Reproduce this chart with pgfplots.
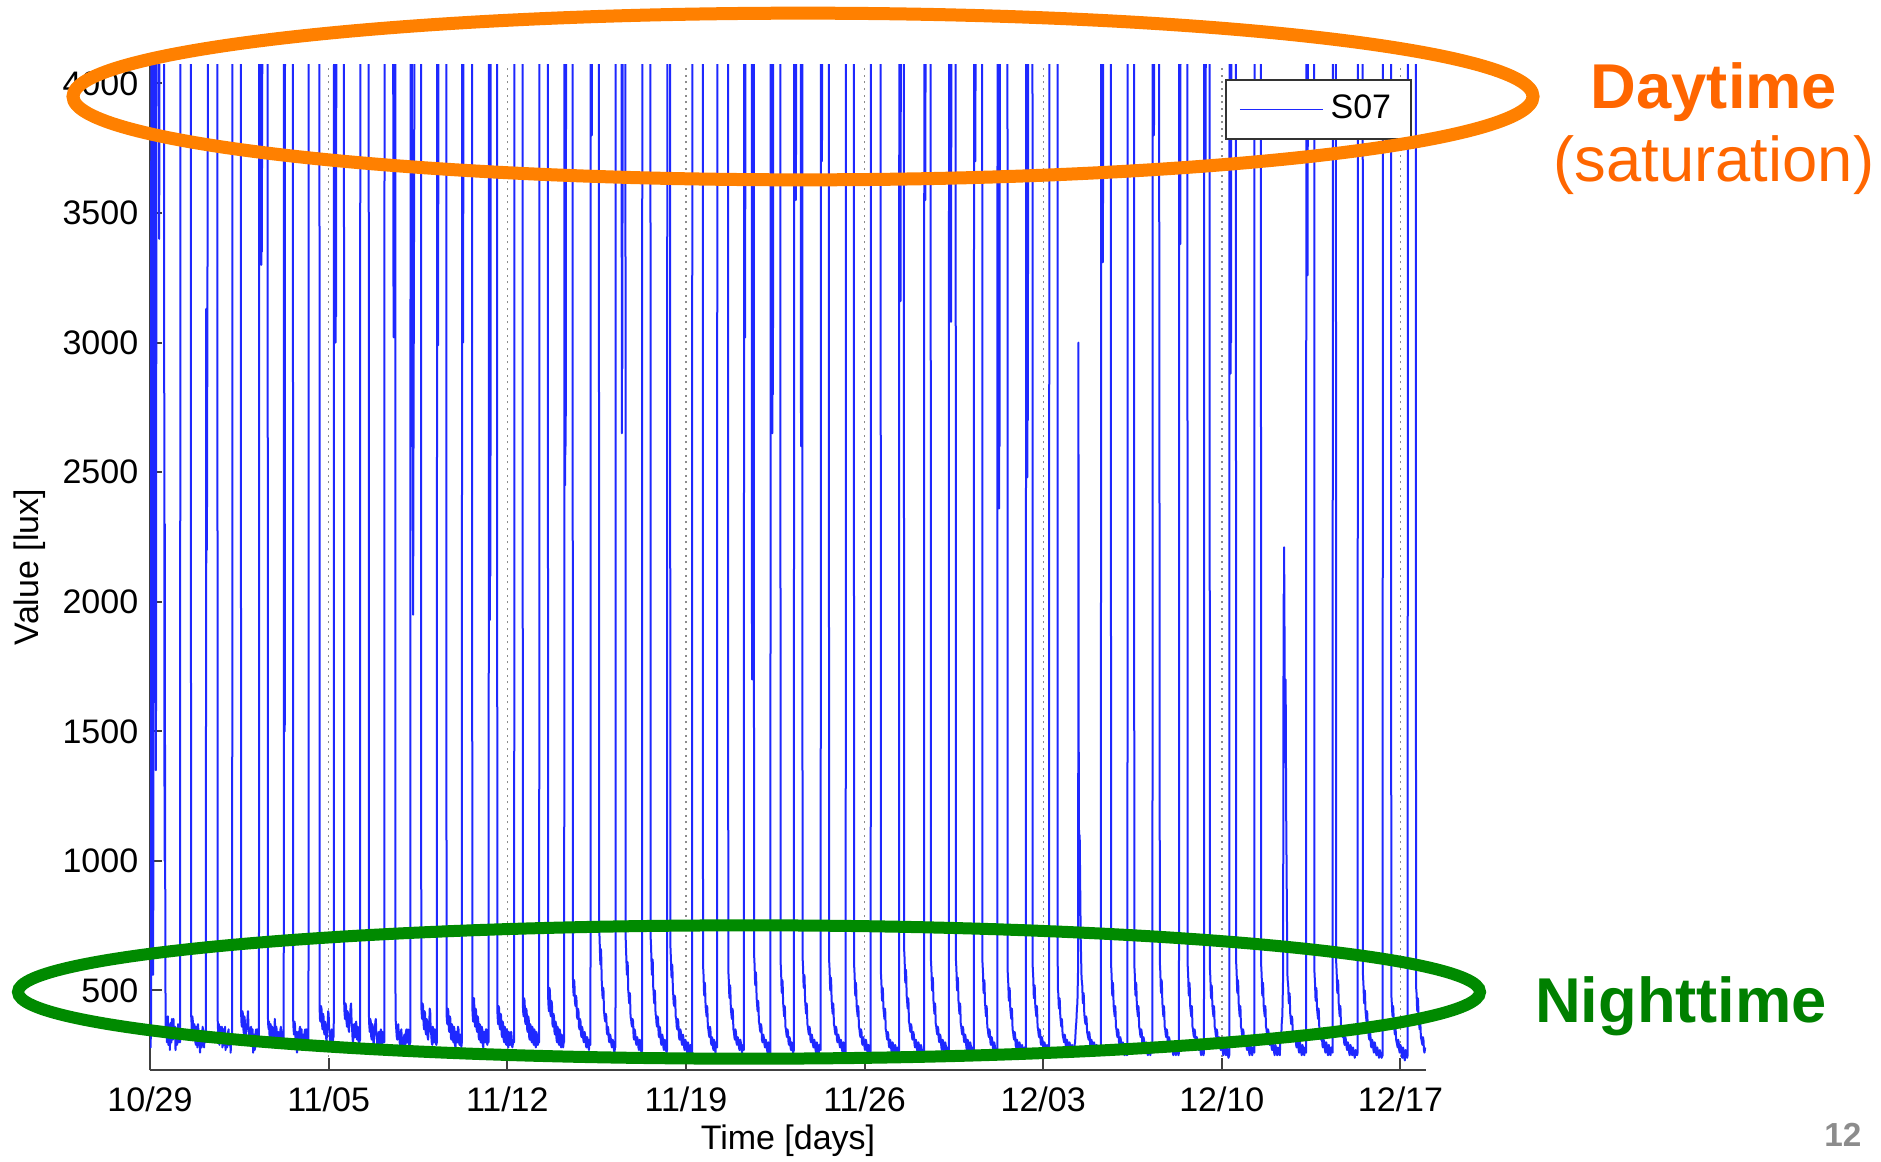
\documentclass[border=0pt]{standalone}
\usepackage{pgfplots}
\pgfplotsset{compat=1.18}
\usepackage{fontspec}
\setmainfont{Liberation Sans}
\definecolor{sblue}{RGB}{30,40,255}
\definecolor{ellorange}{RGB}{255,128,0}
\definecolor{txtorange}{RGB}{255,102,0}
\definecolor{ellgreen}{RGB}{0,138,0}
\definecolor{txtgreen}{RGB}{0,128,0}
\begin{document}
\begin{tikzpicture}
\path[use as bounding box] (0pt,0pt) rectangle (564.3pt,-348.3pt);
\begin{axis}[
  scale only axis, width=382.8pt, height=301.8pt,
  at={(45pt,-321pt)}, anchor=south west,
  xmin=0, xmax=50, ymin=193, ymax=4075,
  axis x line*=bottom, axis y line*=left,
  axis line style={-, black!75, line width=0.6pt},
  tick style={black!75, line width=0.6pt},
  major tick length=3.5pt, tick align=inside,
  xtick={0,7,...,49},
  xticklabels={10/29,11/05,11/12,11/19,11/26,12/03,12/10,12/17},
  ytick={500,1000,...,4000},
  scaled y ticks=false,
  /pgf/number format/assume math mode=true,
  /pgf/number format/1000 sep={},
  tick label style={font=\fontsize{10.2}{12}\selectfont},
  xticklabel style={yshift=-1.5pt},
  xmajorgrids=true, ymajorgrids=false,
  major grid style={black!45, line width=0.4pt, dash pattern=on 0.6pt off 1.4pt},
  xlabel={Time [days]}, ylabel={Value [lux]},
  label style={font=\fontsize{10.2}{12}\selectfont},
  xlabel style={at={(axis description cs:0.5,-0.0700)}, anchor=center},
  ylabel style={at={(axis description cs:-0.094,0.5)}, anchor=center},
  legend style={at={(0.989,0.985)}, anchor=north east, draw=black!80, fill=white,
    line width=0.5pt, font=\fontsize{10.2}{12}\selectfont, inner xsep=4pt, inner ysep=2.5pt},
  legend image code/.code={\draw[#1, line width=0.4pt] (0pt,0pt) -- (25pt,0pt);},
  clip=true,
]
\addplot[sblue, line width=0.6pt, no marks, line join=round] coordinates {
(0.00,330)(0.02,280)(0.04,350)(0.05,4095)(0.11,4095)(0.12,560)(0.13,900)(0.14,4095)(0.21,4095)(0.22,1900)(0.23,1350)(0.24,1800)(0.25,4095)(0.35,4095)(0.36,3400)(0.37,4095)(0.55,4095)(0.56,2550)(0.57,1000)(0.58,2300)(0.59,1200)(0.61,380)
(0.62,330)(0.64,390)(0.66,300)(0.68,360)(0.70,400)(0.72,290)(0.74,350)(0.76,340)(0.78,270)(0.80,375)(0.82,330)(0.84,300)(0.86,390)(0.88,350)(0.90,310)(0.92,390)(0.94,340)(0.96,320)(0.98,360)(1.00,270)(1.02,330)(1.04,350)(1.06,290)(1.08,300)(1.10,370)(1.12,360)(1.14,300)(1.16,330)
(1.18,300)(1.19,4095)(1.60,4095)(1.61,410)
(1.63,370)(1.64,340)(1.66,400)(1.68,380)(1.70,330)(1.72,310)(1.74,370)(1.76,350)(1.78,300)(1.80,290)(1.82,360)(1.84,330)(1.86,280)(1.88,370)(1.90,340)(1.92,300)(1.94,330)(1.96,260)(1.98,320)(2.00,340)(2.02,280)(2.04,300)(2.06,360)(2.08,350)(2.10,300)(2.12,280)(2.14,340)(2.16,320)(2.19,300)
(2.20,3130)(2.21,2150)(2.22,2600)(2.23,2200)(2.27,4095)(2.64,4095)(2.65,400)
(2.66,360)(2.68,330)(2.70,370)(2.72,290)(2.74,340)(2.76,360)(2.78,300)(2.80,320)(2.82,360)(2.84,280)(2.86,330)(2.88,350)(2.90,290)(2.92,310)(2.94,360)(2.96,270)(2.98,320)(3.00,330)(3.02,280)(3.04,290)(3.06,340)(3.08,350)(3.10,290)(3.12,300)(3.14,330)(3.16,260)(3.18,300)(3.20,320)
(3.22,300)(3.23,4095)(3.56,4095)(3.57,420)
(3.58,380)(3.60,360)(3.62,420)(3.64,410)(3.66,350)(3.68,330)(3.70,400)(3.72,380)(3.74,320)(3.76,300)(3.78,370)(3.80,350)(3.82,390)(3.84,420)(3.86,360)(3.88,340)(3.90,300)(3.92,290)(3.94,340)(3.96,360)(3.98,300)(4.00,310)(4.02,350)(4.04,260)(4.06,310)(4.08,330)(4.10,270)(4.12,280)(4.14,340)(4.16,350)(4.18,290)(4.20,300)(4.22,350)(4.25,330)
(4.27,310)(4.28,4095)(4.35,4095)(4.36,3300)(4.37,3700)(4.38,3350)(4.40,4095)(4.61,4095)(4.62,400)
(4.63,370)(4.65,350)(4.67,380)(4.69,300)(4.71,340)(4.73,370)(4.75,310)(4.77,320)(4.79,360)(4.81,280)(4.83,330)(4.85,350)(4.87,300)(4.89,390)(4.91,350)(4.93,310)(4.95,360)(4.97,340)(4.99,290)(5.01,280)(5.03,340)(5.05,330)(5.07,280)(5.09,300)(5.11,350)(5.13,360)(5.15,300)(5.17,310)(5.19,340)(5.21,280)
(5.24,300)(5.25,4095)(5.27,4095)(5.28,1500)(5.29,4095)(5.60,4095)(5.61,390)
(5.62,360)(5.64,330)(5.66,380)(5.68,370)(5.70,320)(5.72,300)(5.74,340)(5.76,260)(5.78,310)(5.80,340)(5.82,290)(5.84,300)(5.86,350)(5.88,360)(5.90,300)(5.92,320)(5.94,350)(5.96,270)(5.98,310)(6.00,330)(6.02,280)(6.04,290)(6.06,340)(6.08,350)(6.10,290)(6.12,300)(6.14,350)(6.16,330)(6.19,290)
(6.21,300)(6.22,4095)(6.64,4095)(6.65,420)
(6.66,390)(6.68,380)(6.70,440)(6.72,430)(6.74,370)(6.76,350)(6.78,410)(6.80,400)(6.82,340)(6.84,330)(6.86,380)(6.88,370)(6.90,320)(6.92,300)(6.94,360)(6.96,350)(6.98,420)(7.00,410)(7.02,350)(7.04,330)(7.06,300)(7.08,290)(7.10,340)(7.12,350)(7.14,300)(7.16,300)(7.19,330)
(7.20,320)(7.21,4095)(7.26,4095)(7.27,3000)(7.28,3800)(7.29,3100)(7.30,4095)(7.60,4095)(7.61,450)
(7.62,420)(7.64,390)(7.66,450)(7.68,440)(7.70,380)(7.72,360)(7.74,420)(7.76,410)(7.78,350)(7.80,340)(7.82,400)(7.84,390)(7.86,440)(7.88,450)(7.90,380)(7.92,350)(7.94,310)(7.96,300)(7.98,360)(8.00,370)(8.02,320)(8.04,320)(8.06,370)(8.08,380)(8.10,320)(8.12,310)(8.14,360)(8.16,350)(8.18,300)(8.20,300)
(8.23,310)(8.24,4095)(8.57,4095)(8.58,400)
(8.59,370)(8.61,340)(8.63,390)(8.65,380)(8.67,320)(8.69,310)(8.71,370)(8.73,360)(8.75,300)(8.77,290)(8.79,350)(8.81,340)(8.83,380)(8.85,390)(8.87,330)(8.89,320)(8.91,280)(8.93,270)(8.95,330)(8.97,340)(8.99,290)(9.01,300)(9.03,340)(9.05,350)(9.07,300)(9.09,290)(9.11,340)(9.13,330)(9.16,300)
(9.18,300)(9.19,4095)(9.53,4095)(9.54,3250)(9.55,3020)(9.56,3200)(9.57,4095)(9.61,4095)(9.62,410)
(9.63,380)(9.65,350)(9.67,320)(9.69,310)(9.71,360)(9.73,370)(9.75,320)(9.77,330)(9.79,290)(9.81,280)(9.83,340)(9.85,350)(9.87,300)(9.89,300)(9.91,260)(9.93,250)(9.95,320)(9.97,330)(9.99,280)(10.01,290)(10.03,340)(10.05,350)(10.07,300)(10.09,300)(10.11,350)(10.13,340)(10.15,290)(10.17,290)
(10.20,300)(10.21,4095)(10.26,4095)(10.27,2600)(10.29,3400)(10.31,1950)(10.33,2800)(10.35,3600)(10.36,4095)(10.62,4095)(10.63,450)
(10.64,420)(10.66,390)(10.68,450)(10.70,440)(10.72,370)(10.74,350)(10.76,420)(10.78,410)(10.80,340)(10.82,330)(10.84,390)(10.86,380)(10.88,320)(10.90,310)(10.92,370)(10.94,360)(10.96,430)(10.98,420)(11.00,340)(11.02,330)(11.04,300)(11.06,290)(11.08,360)(11.10,350)(11.12,300)(11.14,300)(11.16,350)(11.18,340)(11.20,300)(11.22,290)
(11.24,300)(11.25,4095)(11.28,4095)(11.29,2990)(11.30,4095)(11.61,4095)(11.62,420)
(11.63,390)(11.65,370)(11.67,430)(11.69,420)(11.71,350)(11.73,340)(11.75,400)(11.77,390)(11.79,320)(11.81,310)(11.83,370)(11.85,360)(11.87,310)(11.89,300)(11.91,360)(11.93,350)(11.95,290)(11.97,280)(11.99,340)(12.01,340)(12.03,300)(12.05,300)(12.07,360)(12.09,350)(12.11,300)(12.13,290)(12.15,330)(12.17,320)(12.20,280)
(12.22,300)(12.23,4095)(12.26,4095)(12.27,3000)(12.28,4095)(12.62,4095)(12.63,440)
(12.64,410)(12.66,380)(12.68,470)(12.70,470)(12.72,380)(12.74,360)(12.76,430)(12.78,420)(12.80,350)(12.82,340)(12.84,400)(12.86,390)(12.88,320)(12.90,310)(12.92,370)(12.94,360)(12.96,300)(12.98,300)(13.00,360)(13.02,350)(13.04,290)(13.06,280)(13.08,340)(13.10,340)(13.12,300)(13.14,300)(13.16,350)(13.18,350)(13.20,300)(13.22,290)(13.25,320)
(13.27,300)(13.28,4095)(13.31,4095)(13.32,1930)(13.33,2600)(13.34,2100)(13.35,4095)(13.60,4095)(13.61,430)
(13.62,400)(13.64,370)(13.66,440)(13.68,430)(13.70,360)(13.72,350)(13.74,410)(13.76,400)(13.78,330)(13.80,320)(13.82,380)(13.84,370)(13.86,310)(13.88,300)(13.90,360)(13.92,350)(13.94,300)(13.96,290)(13.98,350)(14.00,340)(14.02,290)(14.04,280)(14.06,340)(14.08,330)(14.10,290)(14.12,290)(14.14,340)(14.16,340)(14.18,290)(14.20,280)(14.24,310)
(14.27,300)(14.28,4095)(14.60,4095)(14.61,450)
(14.62,420)(14.64,400)(14.66,470)(14.68,460)(14.70,380)(14.72,370)(14.74,430)(14.76,420)(14.78,350)(14.80,340)(14.82,400)(14.84,390)(14.86,320)(14.88,310)(14.90,370)(14.92,360)(14.94,310)(14.96,300)(14.98,360)(15.00,350)(15.02,300)(15.04,290)(15.06,350)(15.08,340)(15.10,290)(15.12,280)(15.14,340)(15.16,330)(15.18,290)(15.20,290)(15.23,310)
(15.25,300)(15.26,4095)(15.59,4095)(15.60,480)
(15.61,450)(15.63,420)(15.65,510)(15.67,500)(15.69,410)(15.71,400)(15.73,460)(15.75,450)(15.77,370)(15.79,360)(15.81,410)(15.83,400)(15.85,340)(15.87,330)(15.89,380)(15.91,370)(15.93,310)(15.95,300)(15.97,360)(15.99,350)(16.01,300)(16.03,290)(16.05,350)(16.07,340)(16.09,290)(16.11,280)(16.13,330)(16.15,320)(16.17,290)(16.19,280)(16.21,300)
(16.23,300)(16.24,4095)(16.26,4095)(16.27,2450)(16.28,3300)(16.29,2600)(16.30,3800)(16.31,4095)(16.56,4095)(16.57,560)
(16.58,520)(16.60,480)(16.62,540)(16.63,530)(16.65,460)(16.67,440)(16.69,480)(16.71,470)(16.73,400)(16.75,390)(16.77,430)(16.79,420)(16.81,360)(16.83,350)(16.85,390)(16.87,380)(16.89,330)(16.91,320)(16.93,360)(16.95,350)(16.98,310)(17.00,300)(17.03,340)(17.05,330)(17.08,290)(17.10,280)(17.13,320)(17.15,310)(17.18,280)(17.20,270)(17.22,310)(17.24,300)
(17.26,290)(17.27,4095)(17.30,4095)(17.31,3800)(17.32,4095)(17.59,4095)(17.60,760)
(17.61,720)(17.62,690)(17.64,620)(17.65,600)(17.67,660)(17.68,640)(17.70,540)(17.71,520)(17.73,480)(17.74,470)(17.76,510)(17.77,500)(17.79,420)(17.80,410)(17.82,390)(17.84,380)(17.86,410)(17.88,400)(17.90,340)(17.92,330)(17.94,360)(17.96,350)(17.98,310)(18.00,300)(18.03,330)(18.05,320)(18.08,290)(18.10,280)(18.13,310)(18.15,300)(18.18,270)(18.20,260)(18.23,290)
(18.24,280)(18.25,4095)(18.48,4095)(18.49,2650)(18.50,3700)(18.51,2900)(18.52,4095)(18.63,4095)(18.64,700)
(18.65,670)(18.66,640)(18.68,580)(18.69,560)(18.71,610)(18.72,600)(18.74,500)(18.75,490)(18.77,460)(18.78,450)(18.80,490)(18.81,480)(18.83,400)(18.85,390)(18.87,370)(18.89,360)(18.91,390)(18.93,380)(18.95,320)(18.97,310)(18.99,350)(19.01,340)(19.04,300)(19.06,290)(19.09,320)(19.11,310)(19.14,280)(19.16,270)(19.19,310)(19.21,300)(19.24,270)(19.26,260)
(19.28,270)(19.29,4095)(19.61,4095)(19.62,700)
(19.63,680)(19.64,650)(19.66,580)(19.67,560)(19.69,620)(19.70,610)(19.72,510)(19.73,500)(19.75,460)(19.76,450)(19.78,500)(19.79,490)(19.81,410)(19.83,400)(19.85,370)(19.87,360)(19.89,400)(19.91,390)(19.93,330)(19.95,320)(19.97,360)(19.99,350)(20.02,300)(20.04,290)(20.07,330)(20.09,320)(20.12,280)(20.14,270)(20.17,310)(20.19,300)(20.22,270)(20.24,260)
(20.26,270)(20.27,4095)(20.38,4095)(20.39,680)
(20.40,650)(20.41,630)(20.43,560)(20.44,550)(20.46,600)(20.47,590)(20.49,500)(20.50,490)(20.52,450)(20.54,440)(20.56,480)(20.58,470)(20.60,400)(20.62,390)(20.64,360)(20.66,350)(20.68,390)(20.70,380)(20.73,320)(20.75,310)(20.78,350)(20.80,340)(20.83,300)(20.85,290)(20.88,330)(20.90,320)(20.93,280)(20.95,270)(20.98,310)(21.00,300)(21.03,270)(21.05,260)(21.08,300)(21.10,290)(21.13,260)(21.15,250)(21.18,290)(21.20,280)(21.23,260)
(21.24,260)(21.25,4095)(21.66,4095)(21.67,600)
(21.68,580)(21.69,560)(21.71,490)(21.72,480)(21.74,530)(21.75,520)(21.77,440)(21.78,430)(21.80,410)(21.81,400)(21.83,440)(21.84,430)(21.86,360)(21.88,350)(21.90,330)(21.92,320)(21.94,360)(21.96,350)(21.98,300)(22.00,290)(22.02,320)(22.04,310)(22.06,280)(22.08,270)(22.10,310)(22.12,300)(22.14,270)(22.16,260)(22.18,300)(22.20,290)
(22.22,280)(22.23,4095)(22.65,4095)(22.66,580)
(22.67,560)(22.68,540)(22.70,480)(22.71,470)(22.73,520)(22.74,510)(22.76,430)(22.77,420)(22.79,400)(22.80,390)(22.82,430)(22.84,420)(22.86,350)(22.88,340)(22.90,320)(22.92,310)(22.94,350)(22.96,340)(22.98,300)(23.00,290)(23.03,320)(23.05,310)(23.08,280)(23.10,270)(23.13,310)(23.15,300)(23.18,270)(23.20,260)(23.23,290)(23.25,280)
(23.27,270)(23.28,4095)(23.31,4095)(23.32,3020)(23.33,4095)(23.58,4095)(23.59,1700)(23.60,2300)(23.61,1850)(23.62,4095)(23.66,4095)(23.67,640)
(23.68,620)(23.69,600)(23.71,530)(23.72,520)(23.74,570)(23.75,560)(23.77,470)(23.78,460)(23.80,430)(23.81,420)(23.83,460)(23.84,450)(23.86,380)(23.88,370)(23.90,350)(23.92,340)(23.94,370)(23.96,360)(23.98,310)(24.00,300)(24.03,330)(24.05,320)(24.08,290)(24.10,280)(24.13,310)(24.15,300)(24.18,270)(24.20,260)(24.23,300)(24.25,290)(24.27,270)(24.29,260)
(24.31,260)(24.32,4095)(24.38,4095)(24.39,2650)(24.40,3500)(24.41,2800)(24.42,4095)(24.70,4095)(24.71,610)
(24.72,590)(24.73,570)(24.75,500)(24.76,490)(24.78,540)(24.79,530)(24.81,450)(24.82,440)(24.84,410)(24.85,400)(24.87,440)(24.88,430)(24.90,360)(24.92,350)(24.94,330)(24.96,320)(24.98,350)(25.00,340)(25.02,300)(25.04,290)(25.06,320)(25.08,310)(25.10,280)(25.12,270)(25.14,300)(25.16,290)(25.18,270)(25.20,260)
(25.23,270)(25.24,4095)(25.30,4095)(25.31,3550)(25.32,4095)(25.50,4095)(25.51,2600)(25.52,3050)(25.53,4095)(25.56,4095)(25.57,630)
(25.58,610)(25.59,590)(25.61,520)(25.62,510)(25.64,560)(25.65,550)(25.67,460)(25.68,450)(25.70,420)(25.71,410)(25.73,450)(25.74,440)(25.76,370)(25.78,360)(25.80,340)(25.82,330)(25.84,360)(25.86,350)(25.88,310)(25.90,300)(25.93,330)(25.95,320)(25.98,290)(26.00,280)(26.03,310)(26.05,300)(26.08,270)(26.10,260)(26.13,300)(26.15,290)(26.18,260)(26.20,250)(26.23,290)(26.25,280)
(26.28,270)(26.29,4095)(26.32,4095)(26.33,3700)(26.34,4095)(26.60,4095)(26.61,620)
(26.62,600)(26.63,580)(26.65,510)(26.66,500)(26.68,550)(26.69,540)(26.71,460)(26.72,450)(26.74,420)(26.75,410)(26.77,450)(26.78,440)(26.80,370)(26.82,360)(26.84,340)(26.86,330)(26.88,360)(26.90,350)(26.92,310)(26.94,300)(26.97,330)(26.99,320)(27.02,290)(27.04,280)(27.07,310)(27.09,300)(27.12,270)(27.14,260)(27.17,300)(27.19,290)(27.22,270)(27.24,260)
(27.26,260)(27.27,4095)(27.58,4095)(27.59,600)
(27.60,580)(27.61,560)(27.63,490)(27.64,480)(27.66,530)(27.67,520)(27.69,440)(27.70,430)(27.72,410)(27.73,400)(27.75,440)(27.76,430)(27.78,360)(27.80,350)(27.82,330)(27.84,320)(27.86,350)(27.88,340)(27.90,300)(27.92,290)(27.95,320)(27.97,310)(28.00,280)(28.02,270)(28.05,310)(28.07,300)(28.10,270)(28.12,260)(28.15,290)(28.17,280)(28.20,260)(28.22,250)
(28.24,260)(28.25,4095)(28.63,4095)(28.64,570)
(28.65,550)(28.66,530)(28.68,470)(28.69,460)(28.71,510)(28.72,500)(28.74,430)(28.75,420)(28.77,400)(28.78,390)(28.80,430)(28.81,420)(28.83,350)(28.85,340)(28.87,320)(28.89,310)(28.91,340)(28.93,330)(28.95,290)(28.97,280)(29.00,310)(29.02,300)(29.05,270)(29.07,260)(29.10,300)(29.12,290)(29.15,260)(29.17,250)(29.20,290)(29.22,280)(29.25,260)(29.27,250)(29.30,280)(29.32,270)
(29.35,260)(29.36,4095)(29.40,4095)(29.41,3160)(29.42,4095)(29.54,4095)(29.55,660)
(29.56,640)(29.57,620)(29.59,540)(29.60,530)(29.62,580)(29.63,570)(29.65,480)(29.66,470)(29.68,440)(29.69,430)(29.71,470)(29.72,460)(29.74,380)(29.76,370)(29.78,350)(29.80,340)(29.82,370)(29.84,360)(29.86,320)(29.88,310)(29.91,340)(29.93,330)(29.96,290)(29.98,280)(30.01,310)(30.03,300)(30.06,270)(30.08,260)(30.11,300)(30.13,290)(30.16,260)(30.18,250)(30.21,290)(30.23,280)(30.26,260)(30.28,250)(30.31,270)
(30.33,260)(30.34,4095)(30.37,4095)(30.38,3550)(30.39,4095)(30.59,4095)(30.60,620)
(30.61,600)(30.62,580)(30.64,510)(30.65,500)(30.67,550)(30.68,540)(30.70,460)(30.71,450)(30.73,420)(30.74,410)(30.76,450)(30.77,440)(30.79,370)(30.81,360)(30.83,340)(30.85,330)(30.87,360)(30.89,350)(30.91,310)(30.93,300)(30.96,330)(30.98,320)(31.01,280)(31.03,270)(31.06,310)(31.08,300)(31.11,270)(31.13,260)(31.16,300)(31.18,290)(31.21,260)(31.23,250)(31.26,280)(31.28,270)
(31.30,260)(31.31,4095)(31.38,4095)(31.39,3080)(31.40,4095)(31.57,4095)(31.58,620)
(31.59,600)(31.60,580)(31.62,510)(31.63,500)(31.65,550)(31.66,540)(31.68,460)(31.69,450)(31.71,420)(31.72,410)(31.74,450)(31.75,440)(31.77,370)(31.79,360)(31.81,340)(31.83,330)(31.85,360)(31.87,350)(31.89,310)(31.91,300)(31.94,330)(31.96,320)(31.99,280)(32.01,270)(32.04,310)(32.06,300)(32.09,270)(32.11,260)(32.14,300)(32.16,290)(32.19,260)(32.21,250)(32.24,280)(32.26,270)
(32.28,260)(32.29,4095)(32.33,4095)(32.34,3700)(32.35,4095)(32.61,4095)(32.62,610)
(32.63,590)(32.64,570)(32.66,500)(32.67,490)(32.69,540)(32.70,530)(32.72,450)(32.73,440)(32.75,410)(32.76,400)(32.78,440)(32.79,430)(32.81,360)(32.83,350)(32.85,330)(32.87,320)(32.89,350)(32.91,340)(32.93,300)(32.95,290)(32.98,320)(33.00,310)(33.03,280)(33.05,270)(33.08,300)(33.10,290)(33.13,260)(33.15,250)(33.18,270)
(33.20,260)(33.21,4095)(33.26,4095)(33.27,2360)(33.28,3100)(33.29,2600)(33.30,4095)(33.60,4095)(33.61,570)
(33.62,550)(33.63,530)(33.65,470)(33.66,460)(33.68,510)(33.69,500)(33.71,430)(33.72,420)(33.74,400)(33.75,390)(33.77,430)(33.78,420)(33.80,350)(33.82,340)(33.84,320)(33.86,310)(33.88,340)(33.90,330)(33.92,290)(33.94,280)(33.97,310)(33.99,300)(34.02,270)(34.04,260)(34.07,300)(34.09,290)(34.12,260)(34.14,250)(34.17,290)(34.19,280)(34.22,260)(34.24,250)(34.27,280)(34.29,270)
(34.32,260)(34.33,4095)(34.37,4095)(34.38,2480)(34.39,3200)(34.40,2700)(34.41,4095)(34.58,4095)(34.59,590)
(34.60,570)(34.61,550)(34.63,480)(34.64,470)(34.66,520)(34.67,510)(34.69,440)(34.70,430)(34.72,410)(34.73,400)(34.75,440)(34.76,430)(34.78,360)(34.80,350)(34.82,330)(34.84,320)(34.86,350)(34.88,340)(34.90,300)(34.92,290)(34.95,320)(34.97,310)(35.00,280)(35.02,270)(35.05,300)(35.07,290)(35.10,260)(35.12,250)(35.15,290)(35.17,280)(35.19,260)(35.21,250)
(35.23,260)(35.24,4095)(35.56,4095)(35.57,520)
(35.58,500)(35.59,490)(35.61,440)(35.62,430)(35.64,470)(35.65,460)(35.67,400)(35.68,390)(35.70,370)(35.71,360)(35.73,390)(35.74,380)(35.76,330)(35.78,320)(35.80,310)(35.82,300)(35.84,330)(35.86,320)(35.88,290)(35.90,280)(35.93,310)(35.95,300)(35.98,270)(36.00,260)(36.03,300)(36.05,290)(36.08,260)(36.10,250)(36.13,290)(36.15,280)(36.18,260)(36.20,250)(36.23,290)(36.25,300)(36.28,360)(36.30,380)(36.32,430)(36.34,450)
(36.37,600)(36.38,3000)(36.39,1500)(36.40,1200)(36.41,870)(36.43,1100)(36.45,900)(36.47,700)(36.50,560)
(36.51,540)(36.53,520)(36.55,460)(36.56,450)(36.58,490)(36.59,480)(36.61,410)(36.62,400)(36.64,380)(36.66,370)(36.68,400)(36.70,390)(36.72,340)(36.74,330)(36.76,320)(36.78,310)(36.80,340)(36.82,330)(36.84,290)(36.86,280)(36.89,310)(36.91,300)(36.94,270)(36.96,260)(36.99,300)(37.01,290)(37.04,260)(37.06,250)(37.09,290)(37.11,280)(37.14,260)(37.16,250)(37.19,280)(37.21,270)(37.24,250)
(37.26,260)(37.27,4095)(37.33,4095)(37.34,3310)(37.35,4095)(37.65,4095)(37.66,600)
(37.67,580)(37.68,560)(37.70,490)(37.71,480)(37.73,530)(37.74,520)(37.76,440)(37.77,430)(37.79,410)(37.80,400)(37.82,440)(37.83,430)(37.85,360)(37.87,350)(37.89,330)(37.91,320)(37.93,350)(37.95,340)(37.97,300)(37.99,290)(38.02,320)(38.04,310)(38.07,280)(38.09,270)(38.12,300)(38.14,290)(38.17,260)(38.19,250)(38.22,290)(38.24,280)(38.26,260)(38.28,250)
(38.30,260)(38.31,4095)(38.56,4095)(38.57,600)
(38.58,580)(38.59,560)(38.61,490)(38.62,480)(38.64,530)(38.65,520)(38.67,440)(38.68,430)(38.70,410)(38.71,400)(38.73,440)(38.74,430)(38.76,360)(38.78,350)(38.80,330)(38.82,320)(38.84,350)(38.86,340)(38.88,300)(38.90,290)(38.93,320)(38.95,310)(38.98,280)(39.00,270)(39.03,300)(39.05,290)(39.08,260)(39.10,250)(39.13,290)(39.15,280)(39.18,260)(39.20,250)(39.23,280)(39.25,270)
(39.28,260)(39.29,4095)(39.33,4095)(39.34,3800)(39.35,4095)(39.54,4095)(39.55,3200)(39.56,2000)(39.57,610)
(39.58,590)(39.59,570)(39.61,500)(39.62,490)(39.64,540)(39.65,530)(39.67,450)(39.68,440)(39.70,410)(39.71,400)(39.73,440)(39.74,430)(39.76,360)(39.78,350)(39.80,330)(39.82,320)(39.84,350)(39.86,340)(39.88,300)(39.90,290)(39.93,320)(39.95,310)(39.98,280)(40.00,270)(40.03,300)(40.05,290)(40.08,260)(40.10,250)(40.13,290)(40.15,280)(40.18,260)(40.20,250)(40.23,280)(40.25,270)(40.28,260)(40.30,250)
(40.32,260)(40.33,4095)(40.36,4095)(40.37,3380)(40.38,4095)(40.65,4095)(40.66,600)
(40.67,580)(40.68,560)(40.70,490)(40.71,480)(40.73,530)(40.74,520)(40.76,440)(40.77,430)(40.79,410)(40.80,400)(40.82,440)(40.83,430)(40.85,360)(40.87,350)(40.89,330)(40.91,320)(40.93,350)(40.95,340)(40.97,300)(40.99,290)(41.02,320)(41.04,310)(41.07,280)(41.09,270)(41.12,300)(41.14,290)(41.17,260)(41.19,250)(41.22,290)(41.24,280)(41.26,260)(41.28,250)
(41.30,260)(41.31,4095)(41.35,4095)(41.36,3700)(41.37,4095)(41.52,4095)(41.53,590)
(41.54,570)(41.55,550)(41.57,480)(41.58,470)(41.60,520)(41.61,510)(41.63,440)(41.64,430)(41.66,410)(41.67,400)(41.69,440)(41.70,430)(41.72,360)(41.74,350)(41.76,330)(41.78,320)(41.80,350)(41.82,340)(41.84,300)(41.86,290)(41.89,320)(41.91,310)(41.94,280)(41.96,270)(41.99,300)(42.01,290)(42.04,260)(42.06,250)(42.09,290)(42.11,280)(42.14,260)(42.16,250)(42.19,280)(42.21,270)(42.24,250)(42.26,240)
(42.29,250)(42.30,4095)(42.33,4095)(42.34,2880)(42.35,3500)(42.36,3000)(42.37,4095)(42.55,4095)(42.56,610)
(42.57,590)(42.58,570)(42.60,500)(42.61,490)(42.63,540)(42.64,530)(42.66,450)(42.67,440)(42.69,410)(42.70,400)(42.72,440)(42.73,430)(42.75,360)(42.77,350)(42.79,330)(42.81,320)(42.83,350)(42.85,340)(42.87,300)(42.89,290)(42.92,320)(42.94,310)(42.97,280)(42.99,270)(43.02,300)(43.04,290)(43.07,260)(43.09,250)(43.12,290)(43.14,280)(43.17,260)(43.19,250)(43.22,280)(43.24,270)
(43.27,260)(43.28,4095)(43.53,4095)(43.54,600)
(43.55,580)(43.56,560)(43.58,490)(43.59,480)(43.61,530)(43.62,520)(43.64,440)(43.65,430)(43.67,410)(43.68,400)(43.70,440)(43.71,430)(43.73,360)(43.75,350)(43.77,330)(43.79,320)(43.81,350)(43.83,340)(43.85,300)(43.87,290)(43.90,320)(43.92,310)(43.95,280)(43.97,270)(44.00,300)(44.02,290)(44.05,260)(44.07,250)(44.10,290)(44.12,280)(44.15,260)(44.17,250)(44.20,280)(44.22,270)(44.25,260)(44.27,250)(44.30,320)(44.32,300)(44.35,380)(44.37,400)(44.40,550)
(44.42,2030)(44.43,1700)(44.44,2210)(44.46,1800)(44.48,1380)(44.50,1700)(44.52,1200)(44.55,800)(44.57,560)
(44.58,540)(44.60,520)(44.62,460)(44.63,450)(44.65,490)(44.66,480)(44.68,410)(44.69,400)(44.71,380)(44.72,370)(44.74,400)(44.76,390)(44.78,340)(44.80,330)(44.82,320)(44.84,310)(44.86,340)(44.88,330)(44.91,290)(44.93,280)(44.96,310)(44.98,300)(45.01,270)(45.03,260)(45.06,300)(45.08,290)(45.11,260)(45.13,250)(45.16,290)(45.18,280)(45.21,260)(45.23,250)(45.26,280)(45.28,270)
(45.30,260)(45.31,4095)(45.34,4095)(45.35,3400)(45.36,3260)(45.37,4095)(45.62,4095)(45.63,570)
(45.64,550)(45.65,530)(45.67,470)(45.68,460)(45.70,510)(45.71,500)(45.73,430)(45.74,420)(45.76,400)(45.77,390)(45.79,430)(45.80,420)(45.82,350)(45.84,340)(45.86,320)(45.88,310)(45.90,340)(45.92,330)(45.94,290)(45.96,280)(45.99,310)(46.01,300)(46.04,270)(46.06,260)(46.09,300)(46.11,290)(46.14,260)(46.16,250)(46.19,290)(46.21,280)(46.24,260)(46.26,250)(46.29,280)(46.31,270)
(46.34,260)(46.35,4095)(46.47,4095)(46.48,610)
(46.49,590)(46.50,570)(46.52,500)(46.53,490)(46.55,540)(46.56,530)(46.58,450)(46.59,440)(46.61,410)(46.62,400)(46.64,440)(46.65,430)(46.67,360)(46.69,350)(46.71,330)(46.73,320)(46.75,350)(46.77,340)(46.79,300)(46.81,290)(46.84,320)(46.86,310)(46.89,280)(46.91,270)(46.94,300)(46.96,290)(46.99,260)(47.01,250)(47.04,290)(47.06,280)(47.09,260)(47.11,250)(47.14,280)(47.16,270)(47.19,250)(47.21,240)(47.24,270)(47.26,260)(47.30,250)
(47.32,260)(47.33,4095)(47.52,4095)(47.53,560)
(47.54,540)(47.55,520)(47.57,460)(47.58,450)(47.60,500)(47.61,490)(47.63,420)(47.64,410)(47.66,390)(47.67,380)(47.69,420)(47.70,410)(47.72,350)(47.74,340)(47.76,320)(47.78,310)(47.80,340)(47.82,330)(47.84,290)(47.86,280)(47.89,310)(47.91,300)(47.94,270)(47.96,260)(47.99,300)(48.01,290)(48.04,260)(48.06,250)(48.09,280)(48.11,270)(48.14,250)(48.16,240)(48.19,270)(48.21,260)(48.24,250)(48.26,240)
(48.30,250)(48.31,4095)(48.63,4095)(48.64,480)
(48.65,470)(48.66,450)(48.68,410)(48.69,400)(48.71,440)(48.72,430)(48.74,370)(48.75,360)(48.77,340)(48.78,330)(48.80,360)(48.81,350)(48.83,310)(48.85,300)(48.87,290)(48.89,280)(48.91,310)(48.93,300)(48.95,270)(48.97,260)(49.00,290)(49.02,280)(49.05,250)(49.07,240)(49.10,280)(49.12,270)(49.15,240)(49.17,230)(49.20,270)(49.22,260)(49.24,250)(49.26,240)
(49.28,250)(49.29,4095)(49.60,4095)(49.61,520)
(49.62,500)(49.63,490)(49.65,430)(49.66,420)(49.68,470)(49.69,460)(49.71,390)(49.72,380)(49.74,360)(49.75,350)(49.77,380)(49.78,370)(49.80,320)(49.82,310)(49.84,300)(49.86,290)(49.88,320)(49.90,310)(49.92,270)(49.94,260)(49.97,280)
};
\addlegendentry{S07}
\end{axis}
\draw[ellorange, line width=3.9pt] (240.9pt,-28.95pt) ellipse (219pt and 25pt);
\draw[ellgreen, line width=3.6pt] (224.7pt,-297.6pt) ellipse (219.3pt and 20pt);
\node[anchor=base, inner sep=0pt, text=txtorange, font=\fontsize{19}{22}\selectfont\bfseries] at (514.2pt,-32.4pt) {Daytime};
\node[anchor=base, inner sep=0pt, text=txtorange, font=\fontsize{19}{22}\selectfont] at (514.2pt,-54.3pt) {(saturation)};
\node[anchor=base, inner sep=0pt, text=txtgreen, font=\fontsize{19}{22}\selectfont\bfseries] at (504.3pt,-306.7pt) {Nighttime};
\node[anchor=base east, inner sep=0pt, text=black!45, font=\fontsize{10}{12}\selectfont\bfseries] at (558.6pt,-343.8pt) {12};
\end{tikzpicture}
\end{document}
